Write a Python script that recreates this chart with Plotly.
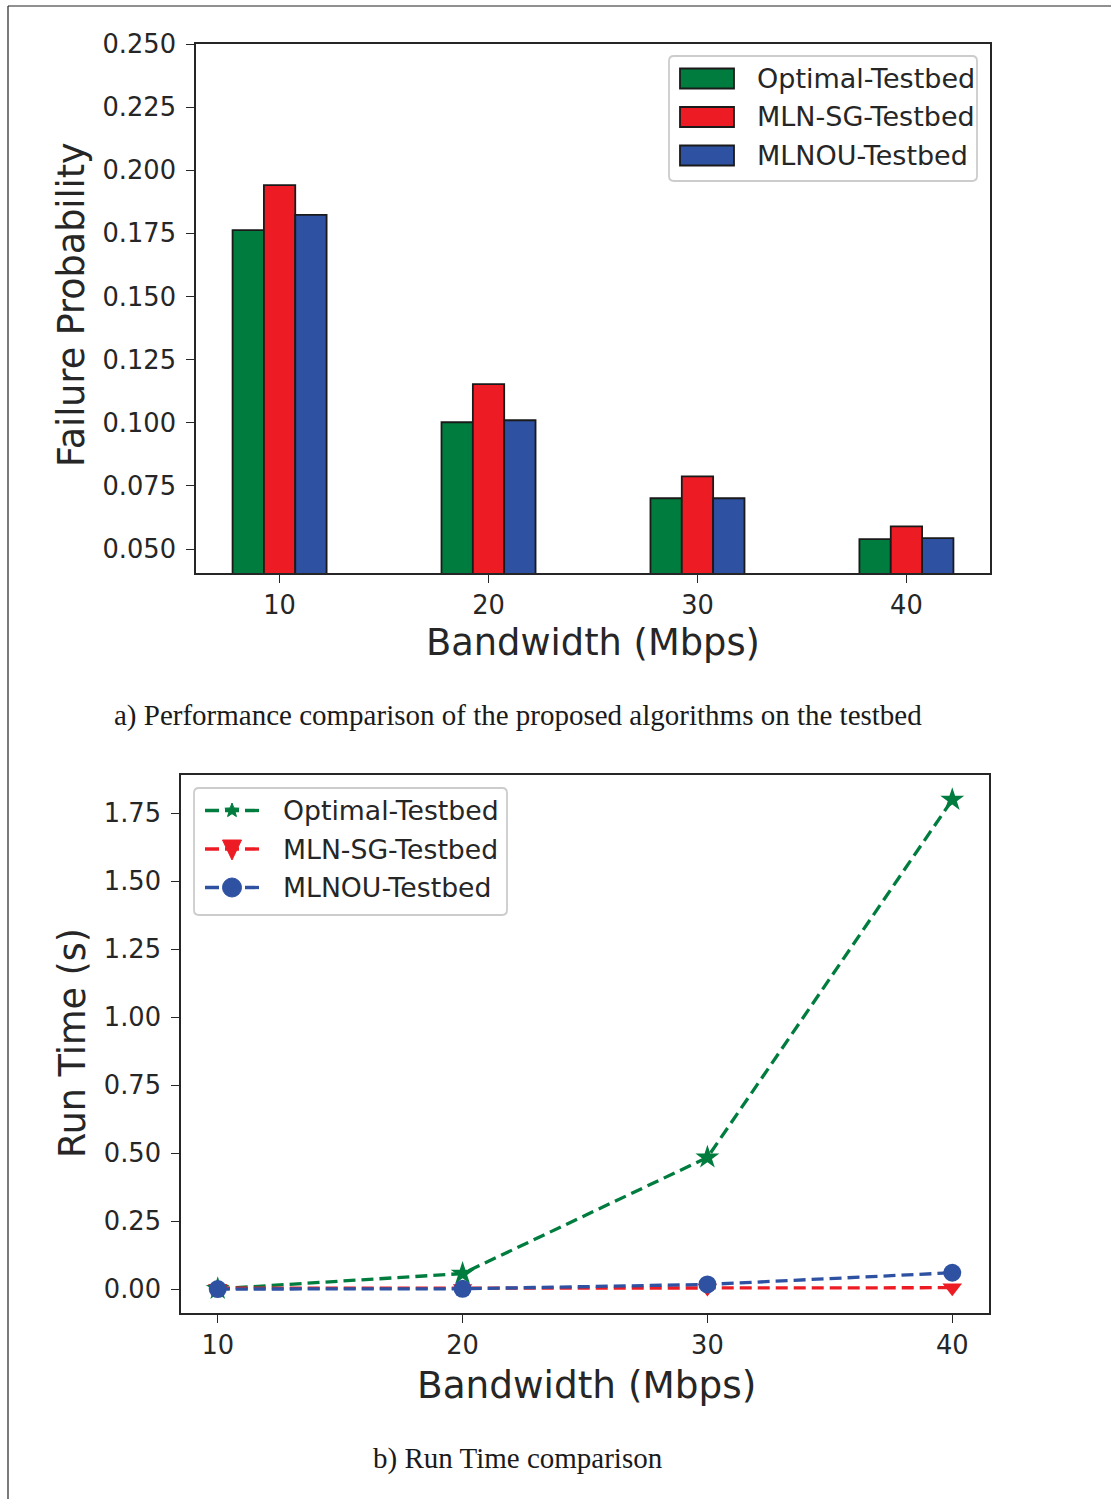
import math
import plotly.graph_objects as go

# ---------------- data ----------------
bandwidth = [10, 20, 30, 40]
series_names = ["Optimal-Testbed", "MLN-SG-Testbed", "MLNOU-Testbed"]

fail_optimal = [0.1763, 0.1002, 0.0701, 0.0539]
fail_mlnsg = [0.1941, 0.1153, 0.0788, 0.0590]
fail_mlnou = [0.1823, 0.1010, 0.0701, 0.0543]

rt_optimal = [0.002, 0.058, 0.485, 1.80]
rt_mlnsg = [0.004, 0.003, 0.005, 0.006]
rt_mlnou = [0.001, 0.002, 0.018, 0.061]

fail_ticks = [0.05, 0.075, 0.1, 0.125, 0.15, 0.175, 0.2, 0.225, 0.25]
rt_ticks = [0.0, 0.25, 0.5, 0.75, 1.0, 1.25, 1.5, 1.75]

caption_a = "a) Performance comparison of the proposed algorithms on the testbed"
caption_b = "b) Run Time comparison"

# ---------------- style ----------------
W, H = 1111, 1499
colors = ["#007d3e", "#ed1c24", "#2e51a2"]
edge = "#1a1a1a"
axcol = "#262626"
font_sans = "DejaVu Sans"
font_serif = "Liberation Serif"
bar_w = 1.5


def px(x):
    return x / W


def py(y):
    return 1 - y / H


def rounded_rect(x0, y0, x1, y1, r):
    pts = [
        ("M", [(x0 + r, y0)]), ("L", [(x1 - r, y0)]), ("Q", [(x1, y0), (x1, y0 + r)]),
        ("L", [(x1, y1 - r)]), ("Q", [(x1, y1), (x1 - r, y1)]),
        ("L", [(x0 + r, y1)]), ("Q", [(x0, y1), (x0, y1 - r)]),
        ("L", [(x0, y0 + r)]), ("Q", [(x0, y0), (x0 + r, y0)]),
    ]
    s = ""
    for cmd, pl in pts:
        s += cmd + " ".join(f"{px(a):.5f},{py(b):.5f}" for a, b in pl) + " "
    return s + "Z"


def star_path(R, r):
    pts = []
    for i in range(10):
        ang = math.pi / 2 + i * math.pi / 5
        rad = R if i % 2 == 0 else r
        pts.append((rad * math.cos(ang), rad * math.sin(ang)))
    return "M" + " L".join(f"{a:.2f},{b:.2f}" for a, b in pts) + " Z"


fig = go.Figure()

# bars (top chart)
for k, (name, vals) in enumerate(zip(series_names, [fail_optimal, fail_mlnsg, fail_mlnou])):
    fig.add_trace(go.Bar(
        x=[b + (k - 1) * bar_w for b in bandwidth], y=vals, width=bar_w,
        marker=dict(color=colors[k], line=dict(color=edge, width=1.8)),
        name=name, showlegend=False, xaxis="x", yaxis="y"))

# lines (bottom chart)
symbols = ["star", "triangle-down", "circle"]
sizes = [18, 17, 18]
for k, (name, vals) in enumerate(zip(series_names, [rt_optimal, rt_mlnsg, rt_mlnou])):
    fig.add_trace(go.Scatter(
        x=bandwidth, y=vals, mode="lines+markers", name=name,
        line=dict(color=colors[k], width=3.3, dash="12px,6px"),
        marker=dict(symbol=symbols[k], size=sizes[k], color=colors[k]),
        xaxis="x2", yaxis="y2", showlegend=False))

axis_common = dict(
    showline=True, linecolor=axcol, linewidth=1.6, mirror=True,
    ticks="outside", ticklen=8, tickwidth=1.4, tickcolor=axcol,
    showgrid=False, zeroline=False, automargin=False,
    tickfont=dict(family=font_sans, size=25.7, color=axcol),
)

fig.update_layout(
    width=W, height=H,
    margin=dict(l=0, r=0, t=0, b=0, autoexpand=False),
    paper_bgcolor="white", plot_bgcolor="white",
    barmode="overlay", showlegend=False,
    xaxis=dict(domain=[px(196), px(990)], range=[6.0, 44.0], anchor="y",
               tickvals=bandwidth, **axis_common),
    yaxis=dict(domain=[py(573), py(44)], range=[0.0405, 0.250], anchor="x",
               tickvals=fail_ticks, tickformat=".3f", ticklabelstandoff=5, **axis_common),
    xaxis2=dict(domain=[px(181), px(989)], range=[8.5, 41.5], anchor="y2",
                tickvals=bandwidth, **axis_common),
    yaxis2=dict(domain=[py(1313), py(775)], range=[-0.087, 1.891], anchor="x2",
                tickvals=rt_ticks, tickformat=".2f", ticklabelstandoff=5, **axis_common),
)

annotations = [
    dict(text="Failure Probability", x=px(72), y=py(305), textangle=-90,
         font=dict(family=font_sans, size=36.5, color=axcol)),
    dict(text="Bandwidth (Mbps)", x=px(593), y=py(642),
         font=dict(family=font_sans, size=36.8, color=axcol)),
    dict(text="Run Time (s)", x=px(72), y=py(1043), textangle=-90,
         font=dict(family=font_sans, size=36.5, color=axcol)),
    dict(text="Bandwidth (Mbps)", x=px(586), y=py(1385),
         font=dict(family=font_sans, size=37.4, color=axcol)),
    dict(text=caption_a, x=px(518), y=py(715),
         font=dict(family=font_serif, size=29, color="#1a1a1a")),
    dict(text=caption_b, x=px(518), y=py(1458),
         font=dict(family=font_serif, size=29, color="#1a1a1a")),
]

shapes = [
    # outer frame lines
    dict(type="line", xref="paper", yref="paper", x0=px(8), x1=1, y0=py(6), y1=py(6),
         line=dict(color="#222222", width=1.2)),
    dict(type="line", xref="paper", yref="paper", x0=px(8), x1=px(8), y0=py(6), y1=0,
         line=dict(color="#222222", width=1.2)),
    # legend frames
    dict(type="path", xref="paper", yref="paper", path=rounded_rect(669, 56, 977, 181, 5),
         line=dict(color="#cccccc", width=1.8), fillcolor="white", layer="above"),
    dict(type="path", xref="paper", yref="paper", path=rounded_rect(194, 788, 507, 915, 5),
         line=dict(color="#cccccc", width=1.8), fillcolor="white", layer="above"),
]

# legend a (bar swatches)
row_a = [78.5, 117, 155.5]
for k, name in enumerate(series_names):
    shapes.append(dict(type="rect", xref="paper", yref="paper",
                       x0=px(680), x1=px(734), y0=py(row_a[k] + 10), y1=py(row_a[k] - 10),
                       fillcolor=colors[k], line=dict(color=edge, width=1.8), layer="above"))
    annotations.append(dict(text=name, x=px(755), y=py(row_a[k]), xanchor="left",
                            font=dict(family=font_sans, size=27, color=axcol)))

# legend b (dashed line + marker)
row_b = [810.5, 849, 887.5]
tri = "M-9.5,9 L9.5,9 L0,-11 Z"
mk_paths = [star_path(7.5, 3.2), tri, None]
for k, name in enumerate(series_names):
    shapes.append(dict(type="line", xref="paper", yref="paper",
                       x0=px(205), x1=px(259), y0=py(row_b[k]), y1=py(row_b[k]),
                       line=dict(color=colors[k], width=3.3, dash="14px,6px"), layer="above"))
    if mk_paths[k] is not None:
        shapes.append(dict(type="path", xref="paper", yref="paper",
                           xsizemode="pixel", ysizemode="pixel",
                           xanchor=px(232), yanchor=py(row_b[k]), path=mk_paths[k],
                           fillcolor=colors[k], line=dict(color=colors[k], width=1), layer="above"))
    else:
        shapes.append(dict(type="circle", xref="paper", yref="paper",
                           xsizemode="pixel", ysizemode="pixel",
                           xanchor=px(232), yanchor=py(row_b[k]),
                           x0=-9.5, x1=9.5, y0=-9.5, y1=9.5,
                           fillcolor=colors[k], line=dict(color=colors[k], width=1), layer="above"))
    annotations.append(dict(text=name, x=px(281), y=py(row_b[k]), xanchor="left",
                            font=dict(family=font_sans, size=26.7, color=axcol)))

for a in annotations:
    a.setdefault("xref", "paper")
    a.setdefault("yref", "paper")
    a.setdefault("showarrow", False)
    a.setdefault("xanchor", "center")
    a.setdefault("yanchor", "middle")

fig.update_layout(annotations=annotations, shapes=shapes)

fig.write_html("out.html")
